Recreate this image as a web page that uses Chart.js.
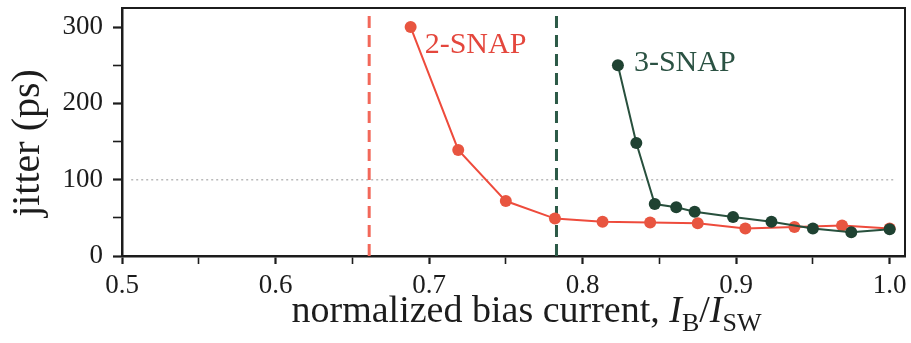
<!DOCTYPE html>
<html>
<head>
<meta charset="utf-8">
<title>jitter vs bias</title>
<script src="https://cdn.jsdelivr.net/npm/chart.js@4.4.0/dist/chart.umd.min.js"></script>
<style>
    html, body { margin: 0; padding: 0; background: #fff; }
    #wrap { width: 911px; height: 343px; }
</style>
</head>
<body>
<div id="wrap"><canvas id="jitterChart"></canvas></div>
<script>
// values
const bias2Snap = [0.688, 0.719, 0.750, 0.782, 0.813, 0.844, 0.875, 0.906, 0.938, 0.969, 1.0];
const jitter2Snap = [300, 139, 72, 49, 45, 44, 43, 36, 38, 40, 36];
const bias3Snap = [0.823, 0.835, 0.847, 0.861, 0.873, 0.898, 0.923, 0.950, 0.975, 1.0];
const jitter3Snap = [250, 148, 68, 64, 58, 51, 45, 36, 31, 35];
const cutoff2Snap = 0.661;
const cutoff3Snap = 0.783;
const thresholdJitter = 100;
const thresholdSpan = [0.506, 1.004];
const xMajor = [0.5, 0.6, 0.7, 0.8, 0.9, 1.0];
const xMinor = [0.55, 0.65, 0.75, 0.85, 0.95];
const yMajor = [0, 100, 200, 300];
const yMinor = [50, 150, 250];
const xRange = [0.5, 1.01];
const yRange = [0, 325];

const SERIF = '"Liberation Serif", "DejaVu Serif", serif';
const RED = '#ee4b3c';
const RED_DOT = '#e85540';
const GREEN = '#28503d';
const GREEN_DOT = '#1f4232';
const INK = '#1c1c1c';

const toPoints = (xs, ys) => xs.map((x, i) => ({ x: x, y: ys[i] }));

const frameAndText = {
    id: 'frameAndText',
    afterDraw(chart) {
        const { ctx, chartArea: a, scales } = chart;
        ctx.save();
        // top and right frame lines
        ctx.strokeStyle = INK;
        ctx.lineWidth = 2;
        ctx.beginPath();
        ctx.moveTo(a.left, a.top);
        ctx.lineTo(a.right, a.top);
        ctx.lineTo(a.right, a.bottom);
        ctx.stroke();

        // series labels next to first point
        ctx.font = '30px ' + SERIF;
        ctx.textAlign = 'left';
        ctx.textBaseline = 'alphabetic';
        ctx.fillStyle = '#e4473d';
        ctx.fillText('2-SNAP', scales.x.getPixelForValue(bias2Snap[0]) + 14, scales.y.getPixelForValue(jitter2Snap[0]) + 26);
        ctx.fillStyle = '#2b5243';
        ctx.fillText('3-SNAP', scales.x.getPixelForValue(bias3Snap[0]) + 16, scales.y.getPixelForValue(jitter3Snap[0]) + 6);

        // y title
        ctx.fillStyle = INK;
        ctx.save();
        ctx.translate(28, (a.top + a.bottom) / 2 + 11);
        ctx.rotate(-Math.PI / 2);
        ctx.textAlign = 'center';
        ctx.textBaseline = 'middle';
        ctx.font = '40px ' + SERIF;
        ctx.fillText('jitter (ps)', 0, 0);
        ctx.restore();

        // x title with subscripts
        const parts = [
            { t: 'normalized bias current, ', f: '38px ' + SERIF, dy: 0 },
            { t: 'I', f: 'italic 38px ' + SERIF, dy: 0 },
            { t: 'B', f: '26px ' + SERIF, dy: 9 },
            { t: '/', f: '38px ' + SERIF, dy: 0 },
            { t: 'I', f: 'italic 38px ' + SERIF, dy: 0 },
            { t: 'SW', f: '26px ' + SERIF, dy: 9 },
        ];
        let total = 0;
        parts.forEach(p => { ctx.font = p.f; p.w = ctx.measureText(p.t).width; total += p.w; });
        let x = (a.left + a.right) / 2 + 13 - total / 2;
        const base = 322;
        ctx.textAlign = 'left';
        ctx.textBaseline = 'alphabetic';
        parts.forEach(p => {
            ctx.font = p.f;
            ctx.fillText(p.t, x, base + p.dy);
            x += p.w;
        });
        ctx.restore();
    }
};

new Chart(document.getElementById('jitterChart'), {
    type: 'line',
    data: {
        datasets: [
            {
                label: '3-SNAP',
                data: toPoints(bias3Snap, jitter3Snap),
                borderColor: GREEN,
                backgroundColor: GREEN_DOT,
                pointBackgroundColor: GREEN_DOT,
                pointBorderWidth: 0,
                pointRadius: 6,
                borderWidth: 2,
                tension: 0,
            },
            {
                label: '2-SNAP',
                data: toPoints(bias2Snap, jitter2Snap),
                borderColor: RED,
                backgroundColor: RED_DOT,
                pointBackgroundColor: RED_DOT,
                pointBorderWidth: 0,
                pointRadius: 6,
                borderWidth: 2,
                tension: 0,
            },
            {
                label: 'cutoff 3',
                data: [{ x: cutoff3Snap, y: yRange[0] }, { x: cutoff3Snap, y: yRange[1] }],
                borderColor: '#2c5a47',
                borderDash: [12, 7],
                borderWidth: 3,
                pointRadius: 0,
            },
            {
                label: 'cutoff 2',
                data: [{ x: cutoff2Snap, y: yRange[0] }, { x: cutoff2Snap, y: yRange[1] }],
                borderColor: '#f2685a',
                borderDash: [12, 7],
                borderWidth: 3,
                pointRadius: 0,
            },
            {
                label: 'threshold',
                data: [{ x: thresholdSpan[0], y: thresholdJitter }, { x: thresholdSpan[1], y: thresholdJitter }],
                borderColor: '#b9b9b9',
                borderDash: [2, 3],
                borderWidth: 1.5,
                pointRadius: 0,
            },
        ],
    },
    options: {
        responsive: true,
        maintainAspectRatio: false,
        devicePixelRatio: 1,
        animation: false,
        layout: { padding: { top: 8, right: 5, left: 0, bottom: 0 } },
        plugins: {
            legend: { display: false },
            tooltip: { enabled: false },
        },
        scales: {
            x: {
                type: 'linear',
                min: xRange[0],
                max: xRange[1],
                afterBuildTicks(scale) {
                    scale.ticks = xMajor.concat(xMinor).sort((p, q) => p - q).map(v => ({ value: v }));
                },
                afterFit(scale) {
                    scale.height = 87;
                    scale.paddingLeft = 0;
                    scale.paddingRight = 0;
                },
                ticks: {
                    autoSkip: false,
                    maxRotation: 0,
                    padding: 6,
                    color: INK,
                    font: { family: SERIF, size: 27 },
                    callback: v => xMajor.some(m => Math.abs(m - v) < 1e-6) ? v.toFixed(1) : '',
                },
                grid: {
                    drawOnChartArea: false,
                    tickLength: 8,
                    tickColor: INK,
                    tickWidth: ctx => xMajor.some(m => Math.abs(m - ctx.tick.value) < 1e-6) ? 2.2 : 1.6,
                },
                border: { color: INK, width: 2.5 },
            },
            y: {
                type: 'linear',
                min: yRange[0],
                max: yRange[1],
                afterBuildTicks(scale) {
                    scale.ticks = yMajor.concat(yMinor).sort((p, q) => p - q).map(v => ({ value: v }));
                },
                afterFit(scale) {
                    scale.width = 122;
                    scale.paddingTop = 0;
                    scale.paddingBottom = 0;
                },
                ticks: {
                    autoSkip: false,
                    padding: 10,
                    color: INK,
                    font: { family: SERIF, size: 27 },
                    callback: v => yMajor.includes(v) ? String(v) : '',
                },
                grid: {
                    drawOnChartArea: false,
                    tickLength: 9,
                    tickColor: INK,
                    tickWidth: ctx => yMajor.includes(ctx.tick.value) ? 2.2 : 1.6,
                },
                border: { color: INK, width: 2.5 },
            },
        },
    },
    plugins: [frameAndText],
});
</script>
</body>
</html>
